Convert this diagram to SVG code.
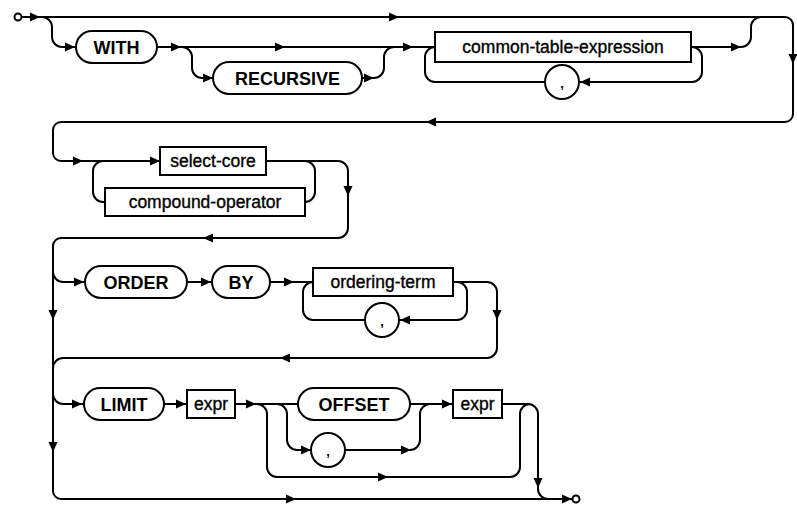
<svg xmlns="http://www.w3.org/2000/svg" xmlns:xlink="http://www.w3.org/1999/xlink" width="797" height="506" viewBox="0 0 797 506">
<defs>
<style>
.ln{fill:none;stroke:#000;stroke-width:2}
.sh{fill:#fff;stroke:#000;stroke-width:2}
.kw{font-family:"Liberation Sans",Arial,Helvetica,sans-serif;font-weight:bold;font-size:18px;text-anchor:middle;fill:#000}
.nt{font-family:"Liberation Sans",Arial,Helvetica,sans-serif;font-weight:normal;font-size:17.5px;text-anchor:middle;fill:#000;stroke:#000;stroke-width:0.35}
.cm{font-family:"Liberation Sans",Arial,Helvetica,sans-serif;font-weight:bold;font-size:13px;text-anchor:middle;fill:#000}
</style>
<path id="ar" d="M0,0 L-10,-4.5 L-10,4.5 Z" fill="#000"/>
</defs>
<rect width="797" height="506" fill="#fff"/>
<g id="connectors">
<path class="ln" d="M21,17 H785 A8,8 0 0 1 793,25 V114 A8,8 0 0 1 785,122 H61 A8,8 0 0 0 53,130 V153 A8,8 0 0 0 61,161 H160"/>
<path class="ln" d="M42,17 A10,10 0 0 1 52,27 V37 A10,10 0 0 0 62,47 H76"/>
<path class="ln" d="M157,47 H435"/>
<path class="ln" d="M182,47 A10,10 0 0 1 192,57 V68 A10,10 0 0 0 202,78 H213"/>
<path class="ln" d="M362,78 H374 A10,10 0 0 0 384,68 V57 A10,10 0 0 1 394,47"/>
<path class="ln" d="M691,47 H692 A10,10 0 0 1 702,57 V72 A10,10 0 0 1 692,82 H579"/>
<path class="ln" d="M545,82 H435 A10,10 0 0 1 425,72 V57 A10,10 0 0 1 435,47"/>
<path class="ln" d="M691,47 H741 A10,10 0 0 0 751,37 V27 A10,10 0 0 1 761,17"/>
<path class="ln" d="M305,161 A10,10 0 0 1 315,171 V192 A10,10 0 0 1 305,202"/>
<path class="ln" d="M105,202 H103 A10,10 0 0 1 93,192 V171 A10,10 0 0 1 103,161"/>
<path class="ln" d="M266,161 H338 A10,10 0 0 1 348,171 V228 A10,10 0 0 1 338,238 H61 A8,8 0 0 0 53,246 V491 A8,8 0 0 0 61,499 H572"/>
<path class="ln" d="M53,272 A10,10 0 0 0 63,282 H85"/>
<path class="ln" d="M187,282 H212"/>
<path class="ln" d="M270,282 H313"/>
<path class="ln" d="M365,320 H313 A10,10 0 0 1 303,310 V292 A10,10 0 0 1 313,282"/>
<path class="ln" d="M453,282 H457 A10,10 0 0 1 467,292 V310 A10,10 0 0 1 457,320 H399"/>
<path class="ln" d="M453,282 H487 A10,10 0 0 1 497,292 V348 A10,10 0 0 1 487,358 H63 A10,10 0 0 0 53,368"/>
<path class="ln" d="M53,394 A10,10 0 0 0 63,404 H84"/>
<path class="ln" d="M164,404 H187"/>
<path class="ln" d="M235,404 H298"/>
<path class="ln" d="M410,404 H453"/>
<path class="ln" d="M277,404 A10,10 0 0 1 287,414 V440 A10,10 0 0 0 297,450 H311"/>
<path class="ln" d="M345,450 H410 A10,10 0 0 0 420,440 V414 A10,10 0 0 1 430,404"/>
<path class="ln" d="M257,404 A10,10 0 0 1 267,414 V467 A10,10 0 0 0 277,477 H510 A10,10 0 0 0 520,467 V414 A10,10 0 0 1 530,404"/>
<path class="ln" d="M502,404 H528 A10,10 0 0 1 538,414 V489 A10,10 0 0 0 548,499"/>
<use xlink:href="#ar" transform="translate(40,17)"/>
<use xlink:href="#ar" transform="translate(399,17)"/>
<use xlink:href="#ar" transform="translate(793,64) rotate(90)"/>
<use xlink:href="#ar" transform="translate(426,122) rotate(180)"/>
<use xlink:href="#ar" transform="translate(75,47)"/>
<use xlink:href="#ar" transform="translate(181,47)"/>
<use xlink:href="#ar" transform="translate(285,47)"/>
<use xlink:href="#ar" transform="translate(213,78)"/>
<use xlink:href="#ar" transform="translate(374,78)"/>
<use xlink:href="#ar" transform="translate(413,47)"/>
<use xlink:href="#ar" transform="translate(580,82) rotate(180)"/>
<use xlink:href="#ar" transform="translate(741,47)"/>
<use xlink:href="#ar" transform="translate(83,161)"/>
<use xlink:href="#ar" transform="translate(160,161)"/>
<use xlink:href="#ar" transform="translate(348,196) rotate(90)"/>
<use xlink:href="#ar" transform="translate(203,238) rotate(180)"/>
<use xlink:href="#ar" transform="translate(84,282)"/>
<use xlink:href="#ar" transform="translate(211,282)"/>
<use xlink:href="#ar" transform="translate(294,282)"/>
<use xlink:href="#ar" transform="translate(400,320) rotate(180)"/>
<use xlink:href="#ar" transform="translate(497,320) rotate(90)"/>
<use xlink:href="#ar" transform="translate(53,320) rotate(90)"/>
<use xlink:href="#ar" transform="translate(280,358) rotate(180)"/>
<use xlink:href="#ar" transform="translate(82,404)"/>
<use xlink:href="#ar" transform="translate(186,404)"/>
<use xlink:href="#ar" transform="translate(256,404)"/>
<use xlink:href="#ar" transform="translate(452,404)"/>
<use xlink:href="#ar" transform="translate(311,450)"/>
<use xlink:href="#ar" transform="translate(411,450)"/>
<use xlink:href="#ar" transform="translate(388,477)"/>
<use xlink:href="#ar" transform="translate(53,452) rotate(90)"/>
<use xlink:href="#ar" transform="translate(538,488) rotate(90)"/>
<use xlink:href="#ar" transform="translate(296,499)"/>
<use xlink:href="#ar" transform="translate(572,499)"/>
</g>
<g id="start"><circle class="sh" cx="18" cy="17" r="3.5"/></g>
<g id="end"><circle class="sh" cx="576" cy="499" r="3.5"/></g>
<g id="with"><rect class="sh" x="76" y="31" width="81" height="32" rx="16"/><text class="kw" x="116.5" y="53.5">WITH</text></g>
<g id="recursive"><rect class="sh" x="213" y="62" width="149" height="32" rx="16"/><text class="kw" x="287.5" y="84.5">RECURSIVE</text></g>
<g id="cte"><rect class="sh" x="435" y="32" width="256" height="30"/><text class="nt" x="563" y="53">common-table-expression</text></g>
<g id="cte-comma"><circle class="sh" cx="562" cy="82" r="17"/><text class="cm" x="562" y="88">,</text></g>
<g id="select-core"><rect class="sh" x="160" y="147" width="106" height="28"/><text class="nt" x="213" y="167">select-core</text></g>
<g id="compound-operator"><rect class="sh" x="105" y="188" width="200" height="28"/><text class="nt" x="205" y="208">compound-operator</text></g>
<g id="order"><rect class="sh" x="85" y="266" width="102" height="32" rx="16"/><text class="kw" x="136" y="288.5">ORDER</text></g>
<g id="by"><rect class="sh" x="212" y="266" width="58" height="32" rx="16"/><text class="kw" x="241" y="288.5">BY</text></g>
<g id="ordering-term"><rect class="sh" x="313" y="268" width="140" height="28"/><text class="nt" x="383" y="288">ordering-term</text></g>
<g id="ot-comma"><circle class="sh" cx="382" cy="320" r="17"/><text class="cm" x="382" y="326">,</text></g>
<g id="limit"><rect class="sh" x="84" y="388" width="80" height="32" rx="16"/><text class="kw" x="124" y="410.5">LIMIT</text></g>
<g id="expr1"><rect class="sh" x="187" y="390" width="48" height="28"/><text class="nt" x="211" y="410">expr</text></g>
<g id="offset"><rect class="sh" x="298" y="388" width="112" height="32" rx="16"/><text class="kw" x="354" y="410.5">OFFSET</text></g>
<g id="limit-comma"><circle class="sh" cx="328" cy="450" r="17"/><text class="cm" x="328" y="456">,</text></g>
<g id="expr2"><rect class="sh" x="453" y="390" width="49" height="28"/><text class="nt" x="477.5" y="410">expr</text></g>
</svg>
